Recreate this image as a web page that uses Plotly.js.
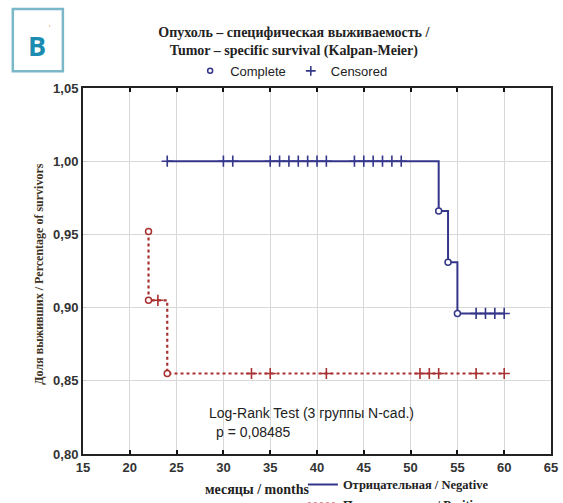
<!DOCTYPE html>
<html>
<head>
<meta charset="utf-8">
<script src="https://cdn.plot.ly/plotly-3.0.1.min.js"></script>
<style>html,body{margin:0;padding:0;background:#fff;}#chart{width:563px;height:503px;}</style>
</head>
<body>
<div id="chart"></div>
<script>
// ---- Data ----
// Negative group (solid blue) Kaplan-Meier steps
const negStepX = [24, 53, 54, 55, 60];
const negStepY = [1.000, 0.966, 0.931, 0.896, 0.896];
const negEventX = [53, 54, 55];
const negEventY = [0.966, 0.931, 0.896];
const negCensX = [24, 30, 31, 35, 36, 37, 38, 39, 40, 41, 44, 45, 46, 47, 48, 49, 57, 58, 59, 60];
const negCensY = [1,1,1,1,1,1,1,1,1,1,1,1,1,1,1,1,0.896,0.896,0.896,0.896];

// Positive group (dotted red)
const posStepX = [22, 22, 24, 60];
const posStepY = [0.952, 0.905, 0.855, 0.855];
const posEventX = [22, 22, 24];
const posEventY = [0.952, 0.905, 0.855];
const posCensX = [23, 33, 35, 41, 51, 52, 53, 57, 60];
const posCensY = [0.905, 0.855, 0.855, 0.855, 0.855, 0.855, 0.855, 0.855, 0.855];

const xTicks = [15, 20, 25, 30, 35, 40, 45, 50, 55, 60, 65];
const yTicks = [0.80, 0.85, 0.90, 0.95, 1.00, 1.05];

const blue = '#34368a';
const red = '#a83030';

const traces = [
  {x: negStepX, y: negStepY, mode: 'lines', line: {shape: 'hv', color: blue, width: 2},
   name: 'Отрицательная / Negative', legend: 'legend2'},
  {x: posStepX, y: posStepY, mode: 'lines', line: {shape: 'hv', color: red, width: 2.2, dash: 'dot'},
   name: 'Положительная / Positive', legend: 'legend2'},
  {x: negCensX, y: negCensY, mode: 'markers', showlegend: false,
   marker: {symbol: 'cross-thin-open', size: 8, color: blue, line: {color: blue, width: 1.6}}},
  {x: posCensX, y: posCensY, mode: 'markers', showlegend: false,
   marker: {symbol: 'cross-thin-open', size: 8, color: red, line: {color: red, width: 1.6}}},
  {x: negEventX, y: negEventY, mode: 'markers', showlegend: false,
   marker: {symbol: 'circle', size: 6, color: 'white', line: {color: blue, width: 1.5}}},
  {x: posEventX, y: posEventY, mode: 'markers', showlegend: false,
   marker: {symbol: 'circle', size: 6, color: 'white', line: {color: red, width: 1.5}}},
  // legend-only entries (top legend)
  {x: [null], y: [null], mode: 'markers', name: 'Complete', legend: 'legend',
   marker: {symbol: 'circle-open', size: 5, color: blue, line: {width: 1.5}}},
  {x: [null], y: [null], mode: 'markers', name: 'Censored', legend: 'legend',
   marker: {symbol: 'cross-thin-open', size: 7, color: blue, line: {width: 1.6}}}
];

const sans = 'Liberation Sans, Arial, sans-serif';
const serif = 'Liberation Serif, Times New Roman, serif';

const layout = {
  width: 563, height: 503,
  margin: {l: 83, r: 12, t: 88, b: 49, autoexpand: false},
  paper_bgcolor: '#fff', plot_bgcolor: '#fff',
  separators: ',.',
  title: {
    text: 'Опухоль – специфическая выживаемость /<br>Tumor – specific survival (Kalpan-Meier)',
    font: {family: serif, size: 14, color: '#222', weight: 'bold'},
    xref: 'container', x: 0.522, xanchor: 'center',
    yref: 'container', y: 0.927, yanchor: 'middle'
  },
  xaxis: {
    range: [15, 65], tickvals: xTicks, ticktext: xTicks.map(String),
    ticks: 'inside', ticklen: 4, tickwidth: 2, tickcolor: '#111',
    showline: true, linecolor: '#222', linewidth: 2, mirror: 'ticks',
    showgrid: true, gridcolor: '#d8d8d8', gridwidth: 1, zeroline: false,
    tickfont: {family: sans, size: 13, color: '#333', weight: 'bold'}
  },
  yaxis: {
    range: [0.80, 1.05], tickvals: yTicks, tickformat: '.2f',
    ticks: 'inside', ticklen: 3, tickwidth: 1, tickcolor: '#ccc',
    showline: true, linecolor: '#222', linewidth: 2, mirror: true,
    showgrid: true, gridcolor: '#d8d8d8', gridwidth: 1, zeroline: false,
    tickfont: {family: sans, size: 13, color: '#333', weight: 'bold'}
  },
  legend: {
    orientation: 'h', xref: 'container', yref: 'container',
    x: 0.518, xanchor: 'center', y: 0.859, yanchor: 'middle',
    font: {family: sans, size: 13, color: '#222'}, bgcolor: 'rgba(0,0,0,0)',
    itemwidth: 30, tracegroupgap: 0
  },
  legend2: {
    orientation: 'v', xref: 'container', yref: 'container',
    x: 0.538, xanchor: 'left', y: 0.066, yanchor: 'top',
    font: {family: serif, size: 12.5, color: '#222', weight: 'bold'}, bgcolor: 'rgba(0,0,0,0)',
    itemwidth: 30, tracegroupgap: 0
  },
  shapes: [
    {type: 'rect', xref: 'paper', yref: 'paper', x0: -0.150, x1: -0.043, y0: 1.046, y1: 1.216,
     line: {color: '#7ab8c9', width: 2.5}, fillcolor: 'rgba(0,0,0,0)'}
  ],
  annotations: [
    {xref: 'paper', yref: 'paper', x: -0.099, y: 1.117, text: 'В', showarrow: false,
     xanchor: 'center', yanchor: 'middle',
     font: {family: 'Open Sans, Liberation Sans, sans-serif', size: 27, color: '#1c8db0', weight: 'bold'}},
    {xref: 'paper', yref: 'paper', x: -0.072, y: 1.160, text: 'ˈ', showarrow: false,
     xanchor: 'center', yanchor: 'middle',
     font: {family: sans, size: 10, color: '#d08030'}},
    {xref: 'paper', yref: 'paper', x: -0.094, y: 0.49, text: 'Доля выживших / Percentage of survivors',
     textangle: -90, showarrow: false, xanchor: 'center', yanchor: 'middle',
     font: {family: serif, size: 12, color: '#3d3222', weight: 'bold'}},
    {xref: 'paper', yref: 'paper', x: 0.372, y: -0.098, text: 'месяцы / months', showarrow: false,
     xanchor: 'center', yanchor: 'middle',
     font: {family: serif, size: 14, color: '#222', weight: 'bold'}},
    {xref: 'x', yref: 'y', x: 28.2, y: 0.828, text: 'Log-Rank Test (3 группы N-cad.)', showarrow: false,
     xanchor: 'left', yanchor: 'middle', font: {family: sans, size: 14, color: '#222'}},
    {xref: 'x', yref: 'y', x: 29.0, y: 0.815, text: 'p = 0,08485', showarrow: false,
     xanchor: 'left', yanchor: 'middle', font: {family: sans, size: 14, color: '#222'}}
  ]
};

Plotly.newPlot('chart', traces, layout, {displayModeBar: false, staticPlot: true});
</script>
</body>
</html>
